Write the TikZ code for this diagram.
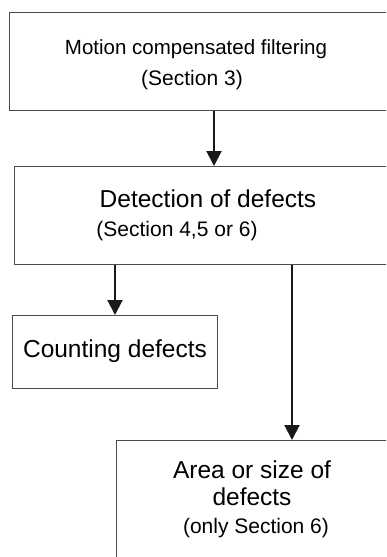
\documentclass[tikz,border=0pt]{standalone}
\usepackage{fontspec}
\setmainfont{Liberation Sans}
\usetikzlibrary{arrows.meta}
\tikzset{
	box/.style={draw=black!70, line width=1pt, rectangle, anchor=north west, inner sep=0pt},
	arr/.style={black!90, line width=2pt, -{Triangle[width=15pt,length=15pt]}},
	big/.style={anchor=base, inner sep=0pt, font=\fontsize{24.5}{28}\selectfont},
	small/.style={anchor=base, inner sep=0pt, font=\fontsize{21}{24}\selectfont}
}
\begin{document}
\begin{tikzpicture}[x=1pt, y=-1pt]
	\useasboundingbox (0,0) rectangle (386,557);
	\clip (0,0) rectangle (386,557);
	\node[box, minimum width=400pt, minimum height=98pt] (filt) at (9,12) {};
	\node[box, minimum width=400pt, minimum height=98pt] (detect) at (14,166) {};
	\node[box, minimum width=205pt, minimum height=73pt] (count) at (12,315) {};
	\node[box, minimum width=300pt, minimum height=140pt] (area) at (116,440) {};
	\node[small, font=\fontsize{20.5}{24}\selectfont] (filttext) at (196,54) {Motion compensated filtering};
	\node[small] (filtsec) at (192,85) {(Section 3)};
	\node[big] (detecttext) at (208,207) {Detection of defects};
	\node[small] (detectsec) at (177,236) {(Section 4,5 or 6)};
	\node[big] (counttext) at (115,357) {Counting defects};
	\node[big] (areatext) at (252,478) {Area or size of};
	\node[big] (areatext2) at (252,505) {defects};
	\node[small] (areasec) at (256,533) {(only Section 6)};
	\draw[arr] ([xshift=205pt]filt.south west) -- ([xshift=200pt]detect.north west);
	\draw[arr] (count.north |- detect.south) -- (count.north);
	\draw[arr] ([xshift=278pt]detect.south west) -- ([xshift=176pt]area.north west);
\end{tikzpicture}
\end{document}
